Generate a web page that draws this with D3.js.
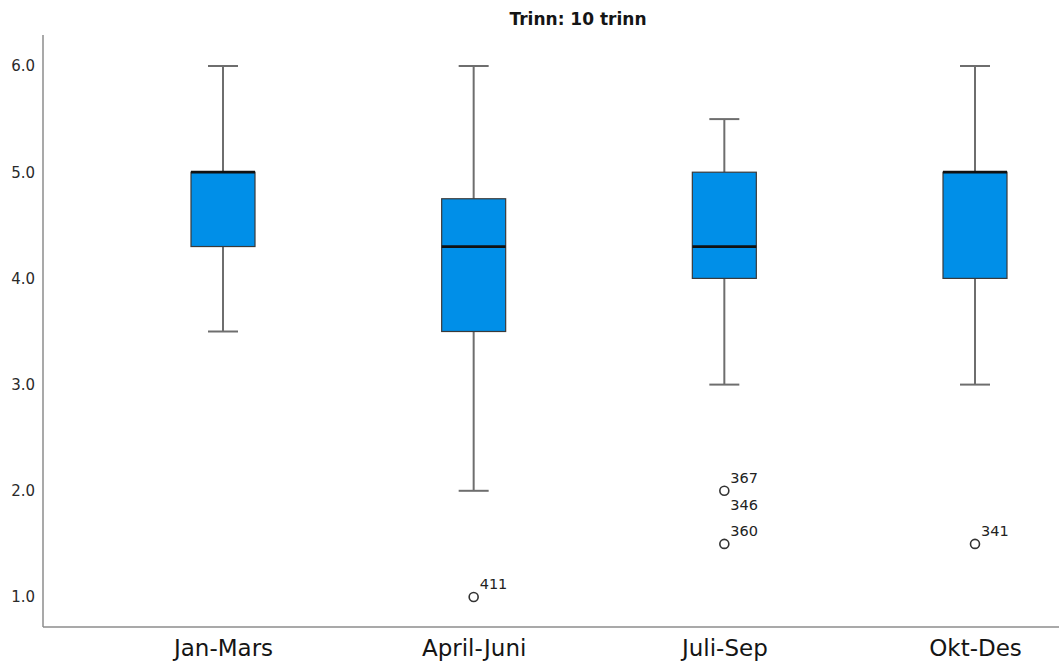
<!DOCTYPE html>
<html><head><meta charset="utf-8">
<script src="https://cdn.jsdelivr.net/npm/d3@7"></script>
<style>body{margin:0;background:#fff}svg{display:block}</style>
</head><body>
<svg id="c" width="1059" height="663"></svg>
<script>
const categories = ["Jan-Mars", "April-Juni", "Juli-Sep", "Okt-Des"];
const whiskerLow  = [3.5, 2.0, 3.0, 3.0];
const q1          = [4.3, 3.5, 4.0, 4.0];
const median      = [5.0, 4.3, 4.3, 5.0];
const q3          = [5.0, 4.75, 5.0, 5.0];
const whiskerHigh = [6.0, 6.0, 5.5, 6.0];
const outliers = [
  {cat: "April-Juni", value: 1.0, labels: ["411"]},
  {cat: "Juli-Sep", value: 2.0, labels: ["367", "346"]},
  {cat: "Juli-Sep", value: 1.5, labels: ["360"]},
  {cat: "Okt-Des", value: 1.5, labels: ["341"]}
];
const yTicks = [1.0, 2.0, 3.0, 4.0, 5.0, 6.0];
const title = "Trinn: 10 trinn";

(function () {
const svg = d3.select("#c");
const pLeft = 43, pBottom = 627, pTop = 35, pRight = 1059;
const y = d3.scaleLinear().domain([1, 6]).range([597, 66]);
const x = d3.scalePoint().domain(categories).range([223, 975]);
const boxW = 64, capW = 30;
const font = "DejaVu Sans, sans-serif";

svg.append("line").attr("x1", pLeft).attr("x2", pLeft).attr("y1", pTop).attr("y2", pBottom)
  .attr("stroke", "#8c8c8c").attr("stroke-width", 1.5);
svg.append("line").attr("x1", pLeft).attr("x2", pRight).attr("y1", pBottom).attr("y2", pBottom)
  .attr("stroke", "#8c8c8c").attr("stroke-width", 1.5);

const yAxis = d3.axisLeft(y).tickValues(yTicks).tickFormat(d3.format(".1f")).tickSize(0).tickPadding(8);
const ya = svg.append("g").attr("transform", `translate(${pLeft},0)`).call(yAxis);
ya.select(".domain").remove();
ya.selectAll("text").attr("font-family", font).attr("font-size", 15).attr("fill", "#2a2a2a");

const xAxis = d3.axisBottom(x).tickSize(0).tickPadding(13);
const xa = svg.append("g").attr("transform", `translate(0,${pBottom})`).call(xAxis);
xa.select(".domain").remove();
xa.selectAll("text").attr("font-family", font).attr("font-size", 23).attr("fill", "#151515");

svg.append("text").attr("x", 578).attr("y", 25).attr("text-anchor", "middle")
  .attr("font-family", font).attr("font-weight", "bold")
  .attr("font-size", 17).attr("fill", "#151515").text(title);

const data = categories.map((c, i) => ({c, lo: whiskerLow[i], q1: q1[i], med: median[i], q3: q3[i], hi: whiskerHigh[i]}));
const g = svg.append("g").selectAll("g").data(data).join("g");
const wStroke = "#6e6e6e";
g.append("line").attr("x1", d => x(d.c)).attr("x2", d => x(d.c)).attr("y1", d => y(d.hi)).attr("y2", d => y(d.q3))
  .attr("stroke", wStroke).attr("stroke-width", 2);
g.append("line").attr("x1", d => x(d.c)).attr("x2", d => x(d.c)).attr("y1", d => y(d.q1)).attr("y2", d => y(d.lo))
  .attr("stroke", wStroke).attr("stroke-width", 2);
g.append("line").attr("x1", d => x(d.c) - capW/2).attr("x2", d => x(d.c) + capW/2).attr("y1", d => y(d.hi)).attr("y2", d => y(d.hi))
  .attr("stroke", wStroke).attr("stroke-width", 2);
g.append("line").attr("x1", d => x(d.c) - capW/2).attr("x2", d => x(d.c) + capW/2).attr("y1", d => y(d.lo)).attr("y2", d => y(d.lo))
  .attr("stroke", wStroke).attr("stroke-width", 2);
g.append("rect").attr("x", d => x(d.c) - boxW/2).attr("width", boxW)
  .attr("y", d => y(d.q3)).attr("height", d => y(d.q1) - y(d.q3))
  .attr("fill", "#008fe8").attr("stroke", "#3a3a3a").attr("stroke-width", 1.2);
g.append("line").attr("x1", d => x(d.c) - boxW/2).attr("x2", d => x(d.c) + boxW/2)
  .attr("y1", d => y(d.med)).attr("y2", d => y(d.med))
  .attr("stroke", "#111").attr("stroke-width", 2.8);

const og = svg.append("g").selectAll("g").data(outliers).join("g");
og.append("circle").attr("cx", d => x(d.cat)).attr("cy", d => y(d.value)).attr("r", 4.5)
  .attr("fill", "none").attr("stroke", "#333").attr("stroke-width", 1.6);
og.each(function(d) {
  const sel = d3.select(this);
  d.labels.forEach((lab, k) => {
    sel.append("text").attr("x", x(d.cat) + 6).attr("y", y(d.value) + (k === 0 ? -8 : 19))
      .attr("font-family", font).attr("font-size", 14.5).attr("fill", "#222").text(lab);
  });
});
})();
</script>
</body></html>
